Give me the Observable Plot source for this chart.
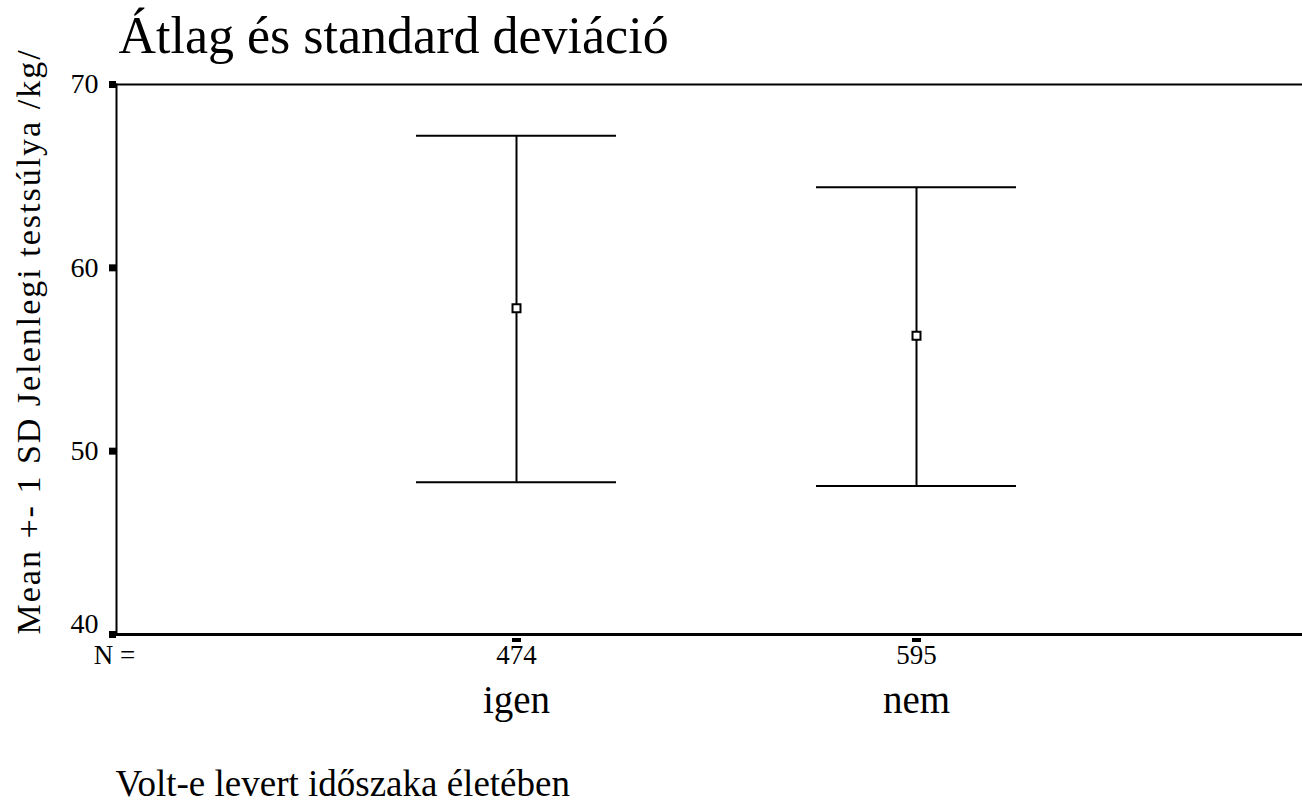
<!DOCTYPE html>
<html>
<head>
<meta charset="utf-8">
<script src="https://cdn.jsdelivr.net/npm/d3@7"></script>
<script src="https://cdn.jsdelivr.net/npm/@observablehq/plot@0.6"></script>
<style>
  html, body { margin: 0; padding: 0; background: #fff; }
  #chart { width: 1302px; height: 802px; }
  #chart svg, #chart svg text { font-family: "Liberation Serif", "Times New Roman", "DejaVu Serif", serif !important; }
  #chart svg .ylab text { letter-spacing: 2px; }
</style>
</head>
<body>
<div id="chart"></div>
<script>
// Data
const categories = ["igen", "nem"];
const counts = [474, 595];
const means = [57.8, 56.3];
const lowers = [48.3, 48.1];
const uppers = [67.2, 64.4];
const yTicks = [40, 50, 60, 70];

const titleText = "Átlag és standard deviáció";
const yLabelText = "Mean +- 1 SD Jelenlegi testsúlya /kg/";
const xLabelText = "Volt-e levert időszaka életében";
const nLabel = "N =";

const rows = categories.map((c, i) => ({
  cat: c, n: counts[i], mean: means[i], lo: lowers[i], hi: uppers[i]
}));

const font = "Liberation Serif";

const chart = Plot.plot({
  width: 1302,
  height: 802,
  marginTop: 84,
  marginRight: 0,
  marginBottom: 168,
  marginLeft: 116,
  style: { background: "#fff", color: "#000", overflow: "visible" },
  x: { type: "band", domain: categories, paddingInner: 0.5, paddingOuter: 0.7325, align: 0.512, axis: null },
  y: { domain: [40, 70], axis: null },
  marks: [
    // frame lines (top, left, bottom)
    Plot.frame({ anchor: "top", stroke: "#000", strokeWidth: 2 }),
    Plot.frame({ anchor: "left", stroke: "#000", strokeWidth: 2 }),
    Plot.frame({ anchor: "bottom", stroke: "#000", strokeWidth: 3 }),
    // y ticks as small squares
    Plot.axisY({ ticks: yTicks, tickSize: 7, strokeWidth: 7, text: null, label: null, tickPadding: 0 }),
    // y tick labels
    Plot.text(yTicks.filter(d => d !== d3.min(yTicks)), { y: d => d, text: d => String(d), frameAnchor: "left", dx: -18, textAnchor: "end", fontSize: 28, fontFamily: font }),
    Plot.text([d3.min(yTicks)], { y: d => d, text: d => String(d), frameAnchor: "left", dx: -18, dy: -10, textAnchor: "end", fontSize: 28, fontFamily: font }),
    // x ticks (small dashes below the axis)
    Plot.axisX({ tickSize: 4, strokeWidth: 9, text: null, label: null, dy: 4 }),
    // error bars
    Plot.ruleX(rows, { x: "cat", y1: "lo", y2: "hi", stroke: "#000", strokeWidth: 2 }),
    Plot.tickY(rows, { x: "cat", y: "hi", stroke: "#000", strokeWidth: 2 }),
    Plot.tickY(rows, { x: "cat", y: "lo", stroke: "#000", strokeWidth: 2 }),
    Plot.dot(rows, { x: "cat", y: "mean", symbol: "square", r: 4.5, fill: "#fff", stroke: "#000", strokeWidth: 2 }),
    // N labels
    Plot.text(rows, { x: "cat", text: d => String(d.n), frameAnchor: "bottom", dy: 29, fontSize: 27, fontFamily: font }),
    Plot.text([nLabel], { text: d => d, frameAnchor: "bottom-left", dx: -2, dy: 29, textAnchor: "middle", fontSize: 27, fontFamily: font }),
    // category labels
    Plot.text(rows, { x: "cat", text: "cat", frameAnchor: "bottom", dy: 78, fontSize: 39, fontFamily: font }),
    // titles
    Plot.text([titleText], { text: d => d, frameAnchor: "top-left", dx: 2, dy: -32, lineAnchor: "bottom", textAnchor: "start", fontSize: 52, fontFamily: font }),
    Plot.text([xLabelText], { text: d => d, frameAnchor: "bottom-left", dx: -1, dy: 161, lineAnchor: "bottom", textAnchor: "start", fontSize: 37, fontFamily: font }),
    Plot.text([yLabelText], { text: d => d, frameAnchor: "bottom-left", dx: -77, dy: 0, rotate: -90, textAnchor: "start", fontSize: 34, fontFamily: font, className: "ylab" })
  ]
});

document.getElementById("chart").appendChild(chart);
</script>
</body>
</html>
